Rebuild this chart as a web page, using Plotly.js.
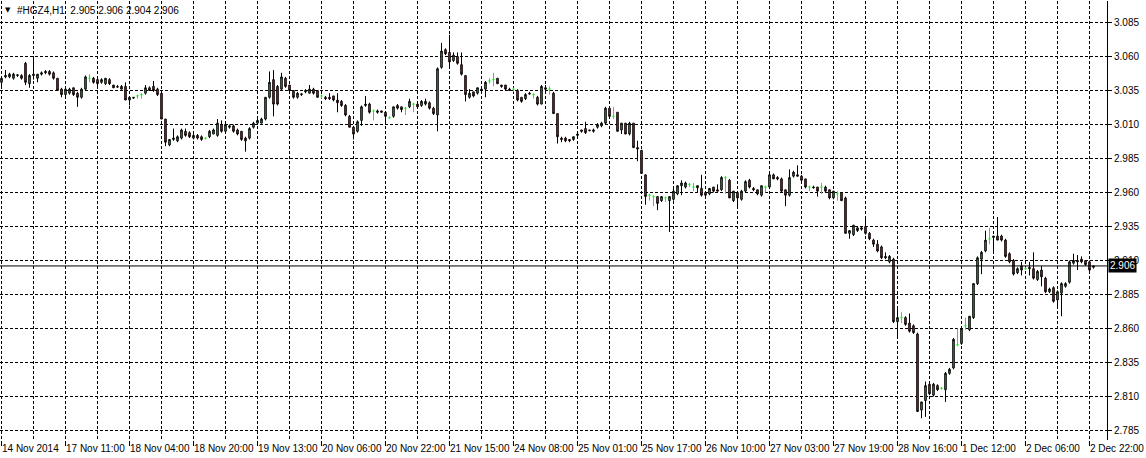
<!DOCTYPE html>
<html>
<head>
<meta charset="utf-8">
<script src="https://cdn.plot.ly/plotly-3.0.1.min.js"></script>
<style>html,body{margin:0;padding:0;background:#fff;}#chart{width:1146px;height:458px;}</style>
</head>
<body>
<div id="chart"></div>
<script>
// ---- data: #HGZ4, H1 bars (index 0 = 14 Nov 2014 ...) ----
const openP = [
3.041,3.045,3.045,3.044,3.046,3.046,3.055,3.040,3.047,3.044,
3.047,3.048,3.049,3.048,3.044,3.036,3.032,3.033,3.037,3.033,
3.030,3.036,3.044,3.044,3.043,3.041,3.040,3.043,3.039,3.038,
3.038,3.038,3.028,3.030,3.031,3.032,3.033,3.037,3.038,3.036,
3.033,3.014,2.995,2.999,2.998,3.000,3.005,3.004,3.000,3.002,
3.001,3.000,3.001,3.003,3.002,3.010,3.005,3.008,3.009,3.006,
3.005,3.000,3.000,3.008,3.011,3.011,3.014,3.030,3.043,3.038,
3.036,3.044,3.039,3.035,3.030,
3.032,3.034,3.033,3.036,3.035,3.031,3.030,3.030,3.031,3.028,
3.027,3.024,3.016,3.008,3.005,3.013,3.024,3.025,3.020,3.020,
3.020,3.019,3.015,3.016,3.024,3.023,3.022,3.023,3.025,3.025,
3.024,3.025,3.026,3.022,3.017,3.052,3.065,3.063,3.057,3.060,
3.054,3.046,3.030,3.034,3.033,3.036,3.036,3.042,3.043,3.044,
3.039,3.039,3.036,3.036,3.035,3.030,3.029,3.033,3.032,3.030,
3.025,3.037,3.036,3.033,3.018,3.000,3.000,2.999,2.999,3.002,
3.006,3.007,3.006,3.005,3.008,3.009,3.011,3.022,3.016,3.019,
3.006,3.011,3.003,3.011,2.993,2.991,2.973,2.958,2.957,2.957,
2.954,2.956,2.954,2.955,2.959,2.965,2.964,2.966,2.964,2.965,
2.963,2.960,2.959,2.964,2.962,2.962,2.971,2.969,2.954,2.960,
2.955,2.961,2.969,2.963,2.962,2.958,2.964,2.964,2.973,2.971,
2.970,2.962,2.958,2.972,2.973,2.972,2.970,2.964,2.964,2.964,
2.964,2.964,2.962,2.956,2.959,2.960,2.956,2.930,2.929,2.934,
2.933,2.935,2.930,2.925,2.922,2.920,2.913,2.909,2.911,2.865,
2.868,2.868,2.864,2.862,2.856,2.800,2.807,2.819,2.811,2.818,
2.816,2.815,2.827,2.831,2.848,2.849,2.862,2.859,2.868,2.893,
2.911,2.917,2.926,2.928,2.928,2.928,2.925,2.915,2.910,2.901,
2.906,2.904,2.905,2.904,2.896,2.903,2.897,2.887,2.890,2.881,
2.886,2.891,2.894,2.908,2.910,2.911,2.910,2.909,2.905];

const highP = [
3.044,3.050,3.048,3.048,3.047,3.047,3.056,3.047,3.060,3.047,
3.049,3.050,3.050,3.049,3.044,3.037,3.036,3.037,3.037,3.034,
3.037,3.046,3.047,3.045,3.045,3.044,3.044,3.044,3.039,3.039,
3.039,3.041,3.030,3.030,3.032,3.033,3.039,3.038,3.042,3.037,
3.033,3.014,2.999,3.007,3.002,3.007,3.007,3.005,3.003,3.003,
3.002,3.000,3.006,3.007,3.014,3.013,3.011,3.010,3.010,3.007,
3.005,3.001,3.008,3.012,3.014,3.015,3.030,3.049,3.050,3.039,
3.048,3.045,3.039,3.035,3.034,
3.033,3.036,3.039,3.037,3.035,3.032,3.031,3.033,3.031,3.033,
3.028,3.025,3.017,3.009,3.013,3.024,3.031,3.026,3.021,3.021,
3.020,3.019,3.016,3.023,3.025,3.023,3.023,3.029,3.026,3.026,
3.028,3.029,3.027,3.023,3.052,3.070,3.066,3.076,3.063,3.063,
3.063,3.046,3.036,3.034,3.037,3.037,3.042,3.044,3.048,3.044,
3.039,3.039,3.037,3.037,3.036,3.030,3.033,3.034,3.033,3.031,
3.039,3.039,3.038,3.034,3.018,3.001,3.001,2.999,3.001,3.004,
3.006,3.012,3.006,3.007,3.011,3.012,3.023,3.023,3.023,3.019,
3.011,3.011,3.012,3.011,2.998,2.991,2.973,2.959,2.958,2.957,
2.957,2.957,2.957,2.964,2.965,2.969,2.968,2.967,2.967,2.965,
2.973,2.960,2.963,2.964,2.966,2.972,2.972,2.970,2.961,2.960,
2.962,2.969,2.970,2.964,2.962,2.965,2.965,2.974,2.974,2.972,
2.971,2.962,2.977,2.976,2.980,2.973,2.970,2.965,2.965,2.964,
2.967,2.965,2.962,2.961,2.961,2.960,2.957,2.932,2.936,2.935,
2.935,2.942,2.931,2.926,2.925,2.921,2.916,2.914,2.912,2.876,
2.872,2.869,2.871,2.863,2.857,2.806,2.821,2.820,2.820,2.819,
2.817,2.828,2.831,2.853,2.860,2.861,2.868,2.869,2.893,2.913,
2.917,2.932,2.934,2.928,2.942,2.929,2.926,2.916,2.911,2.905,
2.909,2.905,2.909,2.916,2.903,2.906,2.898,2.890,2.891,2.888,
2.894,2.894,2.910,2.915,2.914,2.913,2.910,2.910,2.906];

const lowP = [
3.037,3.044,3.044,3.043,3.045,3.043,3.039,3.037,3.043,3.041,
3.046,3.047,3.046,3.043,3.035,3.030,3.029,3.032,3.031,3.023,
3.029,3.035,3.041,3.040,3.038,3.040,3.039,3.039,3.037,3.037,
3.036,3.028,3.024,3.029,3.029,3.029,3.032,3.035,3.034,3.031,
3.014,2.994,2.994,2.998,2.997,2.999,3.001,3.000,2.999,2.999,
2.998,2.999,3.000,3.003,3.001,3.004,3.004,3.007,3.004,3.002,
2.998,2.990,2.999,3.007,3.010,3.011,3.013,3.029,3.016,3.024,
3.035,3.037,3.034,3.029,3.029,
3.031,3.033,3.033,3.032,3.030,3.029,3.028,3.028,3.027,3.019,
3.023,3.016,3.008,2.999,3.004,3.009,3.023,3.018,3.013,3.018,
3.019,3.012,3.014,3.015,3.021,3.019,3.017,3.022,3.019,3.022,
3.023,3.024,3.021,3.017,3.005,3.051,3.061,3.051,3.056,3.054,
3.046,3.027,3.029,3.030,3.032,3.035,3.030,3.040,3.038,3.040,
3.037,3.035,3.035,3.034,3.027,3.026,3.028,3.032,3.029,3.024,
3.025,3.035,3.032,3.018,2.996,2.997,2.997,2.997,2.998,3.001,
3.004,3.003,3.005,3.004,3.007,3.008,3.010,3.015,3.014,3.005,
3.003,3.003,3.002,2.993,2.983,2.974,2.951,2.954,2.950,2.947,
2.953,2.953,2.931,2.954,2.958,2.958,2.963,2.964,2.961,2.960,
2.957,2.957,2.958,2.960,2.961,2.961,2.959,2.956,2.953,2.950,
2.954,2.960,2.963,2.961,2.958,2.957,2.960,2.963,2.970,2.969,
2.960,2.950,2.957,2.971,2.972,2.968,2.963,2.961,2.963,2.957,
2.959,2.960,2.955,2.955,2.954,2.954,2.930,2.926,2.928,2.931,
2.932,2.929,2.925,2.920,2.916,2.911,2.911,2.908,2.864,2.853,
2.864,2.862,2.857,2.856,2.799,2.794,2.795,2.811,2.810,2.814,
2.815,2.806,2.826,2.830,2.847,2.848,2.859,2.858,2.867,2.892,
2.900,2.916,2.922,2.915,2.925,2.924,2.912,2.908,2.899,2.900,
2.899,2.903,2.899,2.896,2.895,2.891,2.886,2.886,2.879,2.875,
2.869,2.890,2.893,2.907,2.903,2.908,2.906,2.902,2.904];

const closeP = [
3.044,3.046,3.047,3.047,3.0465,3.044,3.041,3.046,3.046,3.047,
3.048,3.049,3.047,3.044,3.035,3.032,3.036,3.036,3.032,3.030,
3.036,3.045,3.044,3.041,3.040,3.043,3.044,3.040,3.037,3.0375,
3.036,3.028,3.030,3.0295,3.031,3.032,3.037,3.035,3.035,3.032,
3.014,2.997,2.999,3.000,3.001,3.006,3.002,3.001,3.002,3.000,
2.999,3.000,3.005,3.006,3.011,3.005,3.010,3.009,3.005,3.003,
2.999,2.998,3.007,3.011,3.013,3.014,3.030,3.041,3.025,3.025,
3.045,3.038,3.035,3.030,3.033,
3.0325,3.035,3.036,3.033,3.030,3.031,3.029,3.029,3.028,3.026,
3.024,3.017,3.008,3.003,3.012,3.023,3.025,3.019,3.020,3.019,
3.019,3.016,3.015,3.023,3.022,3.021,3.022,3.027,3.025,3.023,
3.027,3.027,3.022,3.018,3.051,3.064,3.062,3.056,3.061,3.055,
3.047,3.032,3.033,3.031,3.037,3.0355,3.041,3.042,3.043,3.040,
3.038,3.036,3.035,3.036,3.028,3.027,3.032,3.0325,3.032,3.025,
3.038,3.036,3.036,3.018,3.001,2.999,2.998,2.998,3.001,3.003,
3.005,3.004,3.0055,3.006,3.010,3.011,3.022,3.016,3.016,3.005,
3.011,3.003,3.011,2.993,2.992,2.974,2.957,2.958,2.957,2.952,
2.957,2.956,2.957,2.961,2.965,2.967,2.967,2.966,2.964,2.9635,
2.958,2.958,2.963,2.961,2.961,2.971,2.971,2.956,2.961,2.956,
2.961,2.968,2.964,2.962,2.959,2.965,2.964,2.973,2.970,2.970,
2.961,2.958,2.971,2.975,2.972,2.969,2.964,2.964,2.9635,2.961,
2.964,2.961,2.956,2.961,2.959,2.954,2.930,2.932,2.936,2.932,
2.934,2.930,2.926,2.922,2.917,2.912,2.912,2.913,2.865,2.868,
2.868,2.863,2.858,2.857,2.799,2.806,2.818,2.812,2.819,2.815,
2.816,2.827,2.830,2.852,2.848,2.860,2.862,2.869,2.893,2.912,
2.916,2.925,2.926,2.927,2.925,2.925,2.913,2.909,2.900,2.904,
2.903,2.904,2.904,2.897,2.902,2.898,2.887,2.889,2.880,2.887,
2.893,2.893,2.909,2.910,2.909,2.909,2.907,2.903,2.906];

// time labels, one every 16 bars
const timeLabels = ["14 Nov 2014","17 Nov 11:00","18 Nov 04:00","18 Nov 20:00","19 Nov 13:00",
"20 Nov 06:00","20 Nov 22:00","21 Nov 15:00","24 Nov 08:00","25 Nov 01:00","25 Nov 17:00",
"26 Nov 10:00","27 Nov 03:00","27 Nov 19:00","28 Nov 16:00","1 Dec 12:00","2 Dec 06:00","2 Dec 22:00"];
const priceTicks = [2.785,2.810,2.835,2.860,2.885,2.910,2.935,2.960,2.985,3.010,3.035,3.060,3.085];
const symbolTitle = "#HGZ4,H1\u00a0\u00a02.905 2.906 2.904 2.906";
const lastPrice = 2.906;

// ---- build traces ----
const LABEL_EVERY = 16, GRID_EVERY = 8;
const main = {x:[],open:[],high:[],low:[],close:[]};
const doji = {x:[],open:[],high:[],low:[],close:[]};
for (let i = 0; i < openP.length; i++) {
  const t = (openP[i] === closeP[i]) ? doji : main;
  t.x.push(i); t.open.push(openP[i]); t.high.push(highP[i]); t.low.push(lowP[i]); t.close.push(closeP[i]);
}
const traces = [
  Object.assign({type:'candlestick', whiskerwidth:0, hoverinfo:'skip', showlegend:false,
    increasing:{fillcolor:'#3cae3c', line:{color:'#000', width:1}},
    decreasing:{fillcolor:'#e01c1c', line:{color:'#000', width:1}}}, main),
  Object.assign({type:'candlestick', whiskerwidth:0, hoverinfo:'skip', showlegend:false,
    increasing:{fillcolor:'#00ff00', line:{color:'#00ff00', width:1}},
    decreasing:{fillcolor:'#00ff00', line:{color:'#00ff00', width:1}}}, doji)
];

const FONT = 'Liberation Sans, Arial, sans-serif';
const annotations = timeLabels.map((t, k) => ({
  x: k * LABEL_EVERY, xref:'x', y: 0, yref:'paper', yanchor:'top', xanchor:'left',
  xshift:-2, yshift:-1, text:t, showarrow:false, font:{family:FONT, size:10, color:'#000'}
}));
annotations.push({x:0, xref:'paper', y:1, yref:'paper', xanchor:'left', yanchor:'top',
  xshift:15, yshift:-2, text:symbolTitle, showarrow:false, font:{family:FONT, size:10, color:'#000'}});
annotations.push({x:0, xref:'paper', y:1, yref:'paper', xanchor:'left', yanchor:'top',
  xshift:3, yshift:-3, text:'▼', showarrow:false, font:{family:'DejaVu Sans', size:7, color:'#000'}});
annotations.push({x:1, xref:'paper', y:lastPrice, yref:'y', xanchor:'left', yanchor:'middle',
  xshift:1, text:lastPrice.toFixed(3), showarrow:false, bgcolor:'#000', borderpad:1,
  font:{family:FONT, size:10, color:'#fff'}});

const GRID = {color:'#000', dash:'3px,2px'};
const layout = {
  width:1146, height:458,
  margin:{l:0, r:39, t:1, b:18, pad:0},
  paper_bgcolor:'#fff', plot_bgcolor:'#fff',
  boxgap:0.45,
  showlegend:false,
  xaxis:{range:[-0.375, 276.375], rangeslider:{visible:false},
    tickmode:'linear', tick0:0, dtick:LABEL_EVERY, showticklabels:false,
    ticks:'outside', ticklen:5, tickcolor:'#000',
    showgrid:true, gridcolor:GRID.color, griddash:GRID.dash, gridwidth:1,
    minor:{tick0:0, dtick:GRID_EVERY, showgrid:true, gridcolor:GRID.color, griddash:GRID.dash, gridwidth:1, ticks:''},
    showline:false, zeroline:false, fixedrange:true},
  yaxis:{side:'right', range:[2.77801, 3.10081], tickmode:'array', tickvals:priceTicks,
    ticktext:priceTicks.map(v=>v.toFixed(3)), showgrid:true, gridcolor:GRID.color, griddash:GRID.dash,
    gridwidth:1, ticks:'outside', ticklen:4, tickcolor:'#000', showline:true, linecolor:'#000',
    linewidth:1, zeroline:false, tickfont:{family:FONT, size:10, color:'#000'},
    fixedrange:true},
  shapes:[{type:'line', xref:'paper', x0:0, x1:1, yref:'y', y0:lastPrice, y1:lastPrice,
    line:{color:'#000', width:1}}],
  annotations:annotations
};
Plotly.newPlot('chart', traces, layout, {staticPlot:true, displayModeBar:false});
</script>
</body>
</html>
